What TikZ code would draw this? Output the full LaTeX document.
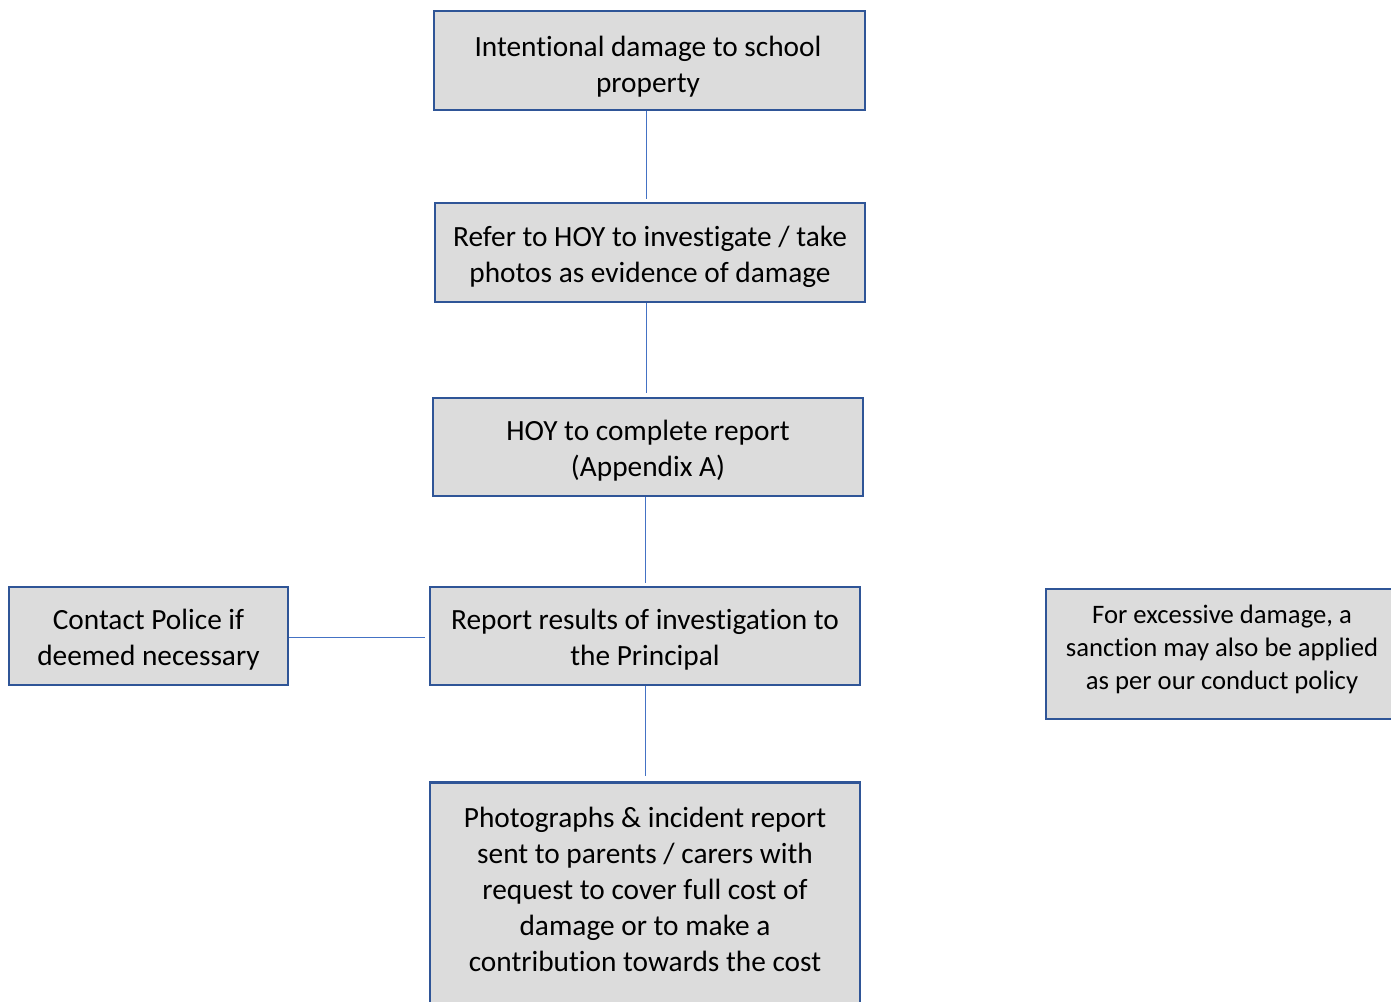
\documentclass[tikz,border=0pt]{standalone}
\usepackage{fontspec}
\setmainfont{Carlito}[Ligatures=NoCommon]
\definecolor{boxborder}{HTML}{2F5597}
\definecolor{boxfill}{HTML}{DCDCDC}
\definecolor{linkcol}{HTML}{4472C4}
\tikzset{
  flowbox/.style={draw=boxborder, fill=boxfill, line width=2pt, inner sep=0pt},
  flowtext/.style={align=center, font=\fontsize{22}{27}\selectfont, inner sep=0pt},
  smalltext/.style={align=center, font=\fontsize{20}{24.75}\selectfont, inner sep=0pt},
  link/.style={draw=linkcol, line width=0.75pt}
}
\begin{document}
\begin{tikzpicture}[x=0.75pt,y=-0.75pt]
\useasboundingbox (0,0) rectangle (1391,1002);
\clip (0,0) rectangle (1391,1002);
\fill[white] (0,0) rectangle (1391,1002);
% boxes
\node[flowbox, minimum width=431*0.75pt, minimum height=99*0.75pt] (b1) at (649.5,60.5) {};
\node[flowbox, minimum width=430*0.75pt, minimum height=99*0.75pt] (b2) at (650,252.5) {};
\node[flowbox, minimum width=430*0.75pt, minimum height=98*0.75pt] (b3) at (648,447) {};
\node[flowbox, minimum width=430*0.75pt, minimum height=98*0.75pt] (b4) at (645,636) {};
\node[flowbox, minimum width=279*0.75pt, minimum height=98*0.75pt] (police) at (148.5,636) {};
\node[flowbox, minimum width=360*0.75pt, minimum height=130*0.75pt] (sanction) at (1226,654) {};
\node[flowbox, minimum width=430*0.75pt, minimum height=260*0.75pt, anchor=north] (b5) at (645,781) {};
% texts
\node[flowtext] (b1text) at (648,66.5) {Intentional damage to school\\property};
\node[flowtext] (b2text) at (650,256.5) {Refer to HOY to investigate / take\\photos as evidence of damage};
\node[flowtext] (b3text) at (648,450.5) {HOY to complete report\\(Appendix A)};
\node[flowtext] (b4text) at (645,640) {Report results of investigation to\\the Principal};
\node[flowtext] (policetext) at (148.5,640) {Contact Police if\\deemed necessary};
\node[smalltext] (sanctiontext) at (1222,649) {For excessive damage, a\\sanction may also be applied\\as per our conduct policy};
\node[flowtext] (b5text) at (645,889.5) {Photographs \& incident report\\sent to parents / carers with\\request to cover full cost of\\damage or to make a\\contribution towards the cost};
% connectors
\coordinate (c1) at (646,199);
\coordinate (c2) at (646,393);
\coordinate (c3) at (645,583);
\coordinate (c4) at (645,776);
\coordinate (c5) at (425,637);
\draw[link] (b1.south -| c1) -- (c1);
\draw[link] (b2.south -| c2) -- (c2);
\draw[link] (b3.south -| c3) -- (c3);
\draw[link] (b4.south -| c4) -- (c4);
\draw[link] (police.east |- c5) -- (c5);
\end{tikzpicture}
\end{document}
